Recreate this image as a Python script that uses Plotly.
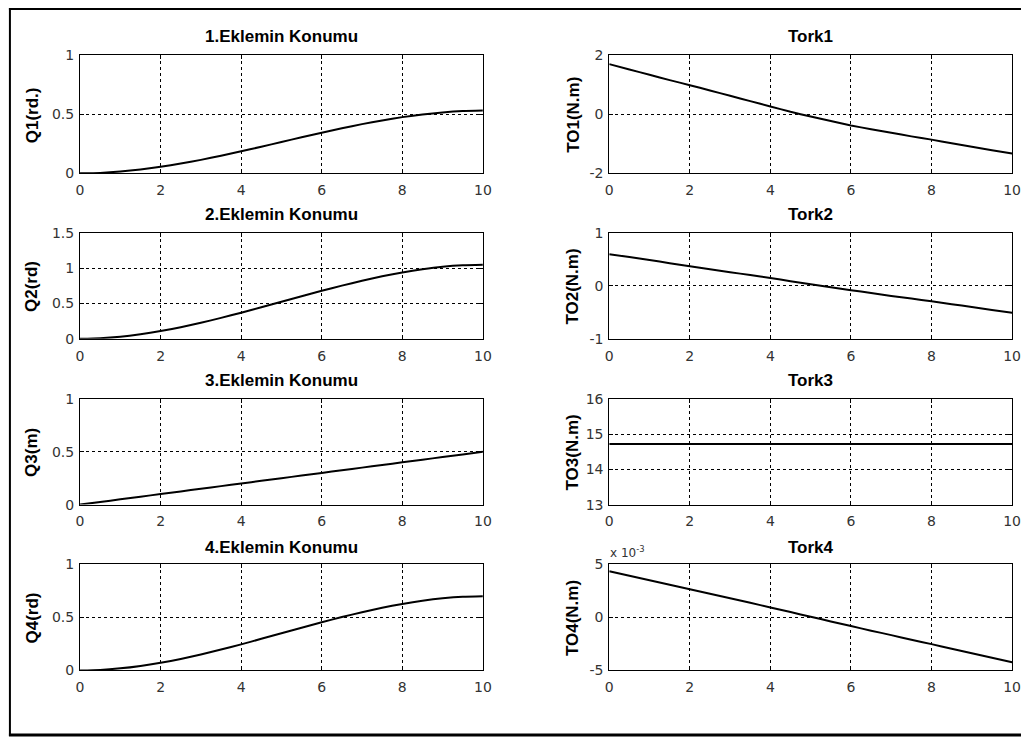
import plotly.graph_objects as go

# ---------------- data ----------------
t = [0, 0.5, 1, 1.5, 2, 2.5, 3, 3.5, 4, 4.5, 5, 5.5, 6, 6.5, 7, 7.5, 8, 8.5, 9, 9.5, 10]

q1 = [0, 0.004, 0.015, 0.032, 0.055, 0.083, 0.114, 0.149, 0.187, 0.225, 0.265,
      0.305, 0.343, 0.381, 0.416, 0.447, 0.475, 0.498, 0.515, 0.526, 0.53]
q2 = [0, 0.008, 0.029, 0.064, 0.109, 0.164, 0.227, 0.296, 0.370, 0.447, 0.525,
      0.603, 0.680, 0.754, 0.823, 0.886, 0.941, 0.986, 1.021, 1.042, 1.05]
q3 = [0, 0.025, 0.05, 0.075, 0.10, 0.125, 0.15, 0.175, 0.20, 0.225, 0.25,
      0.275, 0.30, 0.325, 0.35, 0.375, 0.40, 0.425, 0.45, 0.475, 0.50]
q4 = [0, 0.005, 0.020, 0.043, 0.073, 0.109, 0.151, 0.197, 0.246, 0.298, 0.35,
      0.402, 0.454, 0.503, 0.549, 0.591, 0.627, 0.657, 0.680, 0.695, 0.70]

to1 = [1.69, 1.51, 1.33, 1.15, 0.98, 0.80, 0.62, 0.44, 0.26, 0.08, -0.08,
       -0.23, -0.38, -0.51, -0.63, -0.75, -0.86, -0.98, -1.10, -1.22, -1.33]
to2 = [0.60, 0.545, 0.49, 0.43, 0.37, 0.315, 0.26, 0.205, 0.15, 0.09, 0.03,
       -0.025, -0.08, -0.135, -0.19, -0.24, -0.29, -0.345, -0.40, -0.455, -0.51]
to3 = [14.72] * 21
to4 = [4.35e-3, 3.92e-3, 3.50e-3, 3.07e-3, 2.65e-3, 2.22e-3, 1.80e-3, 1.37e-3,
       0.94e-3, 0.50e-3, 0.06e-3, -0.38e-3, -0.82e-3, -1.25e-3, -1.67e-3,
       -2.10e-3, -2.52e-3, -2.95e-3, -3.38e-3, -3.80e-3, -4.23e-3]

left_titles = ["1.Eklemin Konumu", "2.Eklemin Konumu", "3.Eklemin Konumu", "4.Eklemin Konumu"]
right_titles = ["Tork1", "Tork2", "Tork3", "Tork4"]
left_ylabels = ["Q1(rd.)", "Q2(rd)", "Q3(m)", "Q4(rd)"]
right_ylabels = ["TO1(N.m)", "TO2(N.m)", "TO3(N.m)", "TO4(N.m)"]

left_ranges = [[0, 1], [0, 1.5], [0, 1], [0, 1]]
left_ticks = [[0, 0.5, 1], [0, 0.5, 1, 1.5], [0, 0.5, 1], [0, 0.5, 1]]
left_ticktext = [["0", "0.5", "1"], ["0", "0.5", "1", "1.5"], ["0", "0.5", "1"], ["0", "0.5", "1"]]
right_ranges = [[-2, 2], [-1, 1], [13, 16], [-5e-3, 5e-3]]
right_ticks = [[-2, 0, 2], [-1, 0, 1], [13, 14, 15, 16], [-5e-3, 0, 5e-3]]
right_ticktext = [["-2", "0", "2"], ["-1", "0", "1"], ["13", "14", "15", "16"], ["-5", "0", "5"]]
x_ticks = [0, 2, 4, 6, 8, 10]
x_ticktext = ["0", "2", "4", "6", "8", "10"]

left_series = [q1, q2, q3, q4]
right_series = [to1, to2, to3, to4]

# ---------------- layout geometry (pixels) ----------------
W, H = 1029, 746
LX = (77, 485)
RX = (613, 1021)
ROWS = [(48, 169), (230, 338), (399.5, 507.5), (568.5, 677)]
TITLE_Y = [28.5, 210.5, 380, 550]


def px(x):
    return x / W


def py(y):
    return 1 - y / H


fig = go.Figure()
tick_font = dict(family="DejaVu Sans", size=14, color="#333333")
title_font = dict(family="Liberation Sans, Arial", size=17, color="black")

layout = dict(
    autosize=True,
    margin=dict(l=0, r=0, t=0, b=0, pad=0),
    paper_bgcolor="white", plot_bgcolor="white",
    showlegend=False,
)
annotations = []

idx = 0
for col, (xd, series, titles, ylabels, ranges, ticks, ttext) in enumerate([
        (LX, left_series, left_titles, left_ylabels, left_ranges, left_ticks, left_ticktext),
        (RX, right_series, right_titles, right_ylabels, right_ranges, right_ticks, right_ticktext)]):
    for r in range(4):
        idx += 1
        xa = "x" if idx == 1 else f"x{idx}"
        ya = "y" if idx == 1 else f"y{idx}"
        fig.add_trace(go.Scatter(x=t, y=series[r], mode="lines",
                                 line=dict(color="black", width=2, shape="spline", smoothing=0.6),
                                 xaxis=xa, yaxis=ya, hoverinfo="skip"))
        common = dict(showline=True, linecolor="black", linewidth=1, mirror="ticks",
                      ticks="inside", ticklen=4, tickcolor="black",
                      showgrid=True, gridcolor="black", gridwidth=1, griddash="3px,3px",
                      zeroline=False, tickfont=tick_font)
        layout["xaxis" if idx == 1 else f"xaxis{idx}"] = dict(
            domain=[px(xd[0]), px(xd[1])], range=[0, 10],
            tickvals=x_ticks, ticktext=x_ticktext, anchor=ya,
            ticklabelstandoff=4, **common)
        layout["yaxis" if idx == 1 else f"yaxis{idx}"] = dict(
            domain=[py(ROWS[r][1]), py(ROWS[r][0])], range=ranges[r],
            tickvals=ticks[r], ticktext=ttext[r], anchor=xa,
            ticklabelstandoff=2, **common)
        # subplot title
        annotations.append(dict(text=f"<b>{titles[r]}</b>", x=px((xd[0] + xd[1]) / 2),
                                y=py(TITLE_Y[r] + 1), xref="paper", yref="paper",
                                xanchor="center", yanchor="middle", showarrow=False,
                                font=title_font))
        # y-axis label
        ylx = 28.5 if col == 0 else 576
        annotations.append(dict(text=f"<b>{ylabels[r]}</b>", x=px(ylx),
                                y=py((ROWS[r][0] + ROWS[r][1]) / 2 + 1), xref="paper", yref="paper",
                                xanchor="center", yanchor="middle", textangle=-90, showarrow=False,
                                font=title_font))

# exponent label for Tork4
annotations.append(dict(text="x 10<sup>-3</sup>", x=px(612), y=py(566), xref="paper", yref="paper",
                        xanchor="left", yanchor="bottom", showarrow=False,
                        font=dict(family="DejaVu Sans", size=12, color="#333333")))

layout["annotations"] = annotations
layout["shapes"] = [
    dict(type="line", xref="paper", yref="paper", x0=px(6), x1=px(6), y0=py(0), y1=py(744),
         line=dict(color="black", width=2)),
    dict(type="line", xref="paper", yref="paper", x0=px(5), x1=px(1030), y0=py(1), y1=py(1),
         line=dict(color="black", width=2)),
    dict(type="line", xref="paper", yref="paper", x0=px(5), x1=px(1030), y0=py(743), y1=py(743),
         line=dict(color="black", width=3)),
]
fig.update_layout(**layout)
fig.write_html("out.html",
               config={"displayModeBar": False},
               default_width="1029px; position:absolute; left:0px; top:0px",
               default_height="746px",
               post_script="document.body.style.margin='0';")
